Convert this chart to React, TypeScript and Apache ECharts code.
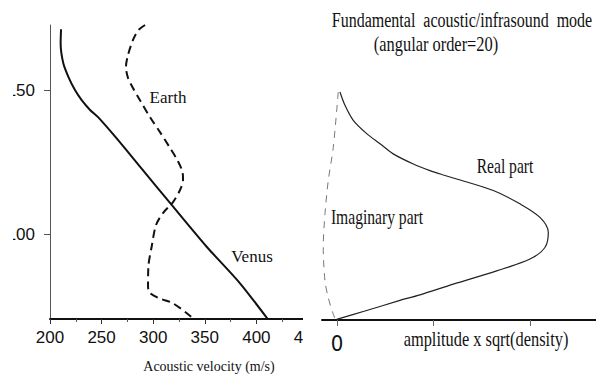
import React, { useEffect, useRef } from "react";
import * as echarts from "echarts";

// Left panel: acoustic velocity (m/s) vs altitude (km)
const venusVelocity = [210.7, 210.3, 212.9, 217.8, 224.2, 230.7, 238.8, 246.8, 264.6, 287.2, 317.9, 351.8, 384.1, 410.5];
const venusAltitude = [171.1, 166.2, 159.3, 154.6, 150.0, 146.5, 143.1, 140.5, 133.2, 123.4, 110.1, 95.6, 82.9, 70.7];
const earthVelocity = [292.1, 285.6, 280.4, 275.6, 273.6, 275.6, 280.4, 287.2, 296.9, 306.6, 316.3, 324.0, 328.4, 328.9, 326.0, 319.2, 309.5, 302.7, 298.5, 295.3, 295.0, 296.9, 306.6, 319.5, 338.9];
const earthAltitude = [172.6, 170.8, 167.4, 162.2, 158.0, 154.2, 150.7, 146.5, 140.6, 135.4, 129.9, 125.3, 121.5, 118.8, 115.3, 111.1, 107.3, 103.1, 95.6, 88.6, 81.7, 79.5, 77.6, 75.9, 70.7];

// Right panel: mode amplitude x sqrt(density) vs altitude
const realAmplitude = [0.031, 0.083, 0.169, 0.308, 0.446, 0.583, 0.791, 0.964, 1.102, 1.24, 1.62, 1.896, 2.104, 2.19, 2.155, 2.0, 1.655, 1.205, 0.86, 0.635, 0.29, -0.003];
const realAltitude = [149.4, 144.8, 139.6, 135.0, 131.5, 128.0, 124.5, 122.2, 120.7, 119.3, 115.3, 110.7, 106.0, 100.8, 95.6, 91.6, 87.5, 82.9, 79.2, 77.1, 73.6, 70.7];
const imagAmplitude = [0.013, -0.038, -0.09, -0.124, -0.142, -0.124, -0.09, -0.038, -0.013];
const imagAltitude = [149.4, 130.3, 118.8, 107.3, 95.6, 84.0, 78.2, 72.5, 70.5];

// Ticks and labels
const velocityTicks = [200, 250, 300, 350, 400, 450];
const altitudeMajorTicks = [100, 150];
const altitudeMinorTicks = [75, 125];
const amplitudeTicks = [0, 1, 2];
const amplitudeLabels = [0];

const zip = (a: number[], b: number[]) => a.map((v, i) => [v, b[i]]);

const serif = '"Liberation Serif", "Times New Roman", serif';
const sans = '"Liberation Sans", Arial, sans-serif';

export default function App() {
  const ref = useRef<HTMLDivElement>(null);
  useEffect(() => {
    if (!ref.current) return;
    const chart = echarts.init(ref.current, undefined, { renderer: "svg" });
    const yRange = { min: 70.5, max: 172.6 };
    const option: any = {
      animation: false,
      backgroundColor: "#ffffff",
      grid: [
        { left: 50, top: 25, width: 258, height: 294 },
        { left: 322, top: 25, width: 274, height: 295 },
      ],
      xAxis: [
        {
          type: "value",
          gridIndex: 0,
          min: 200,
          max: 450,
          interval: 50,
          axisLine: { show: true, lineStyle: { color: "#111", width: 2 } },
          axisTick: { show: true, length: 5, lineStyle: { color: "#333" } },
          minorTick: { show: true, splitNumber: 2, length: 3, lineStyle: { color: "#555" } },
          axisLabel: { color: "#111", fontSize: 17, fontFamily: sans, margin: 10, customValues: velocityTicks },
          splitLine: { show: false },
        },
        {
          type: "value",
          gridIndex: 1,
          min: -0.155,
          max: 2.684,
          z: 100,
          axisLine: { show: true, lineStyle: { color: "#111", width: 2 } },
          axisTick: { show: true, length: 6, customValues: amplitudeTicks, lineStyle: { color: "#666" } },
          axisLabel: {
            color: "#111",
            fontSize: 22,
            fontFamily: '"Liberation Sans Narrow", "DejaVu Sans Condensed", ' + sans,
            margin: 12,
            customValues: amplitudeLabels,
          },
          splitLine: { show: false },
        },
      ],
      yAxis: [
        {
          type: "value",
          gridIndex: 0,
          ...yRange,
          axisLine: { show: true, lineStyle: { color: "#555", width: 1 } },
          axisTick: { show: true, length: 6, customValues: altitudeMajorTicks, lineStyle: { color: "#555" } },
          axisLabel: { color: "#111", fontSize: 17, fontFamily: sans, margin: 15, customValues: altitudeMajorTicks },
          splitLine: { show: false },
        },
        {
          type: "value",
          gridIndex: 0,
          ...yRange,
          axisLine: { show: false },
          axisTick: { show: true, length: 4, customValues: altitudeMinorTicks, lineStyle: { color: "#777" } },
          axisLabel: { show: false },
          splitLine: { show: false },
        },
        {
          type: "value",
          gridIndex: 1,
          ...yRange,
          show: false,
        },
      ],
      series: [
        {
          name: "Venus",
          type: "line",
          xAxisIndex: 0,
          yAxisIndex: 0,
          data: zip(venusVelocity, venusAltitude),
          showSymbol: false,
          smooth: 0.25,
          lineStyle: { color: "#111", width: 2 },
        },
        {
          name: "Earth",
          type: "line",
          xAxisIndex: 0,
          yAxisIndex: 0,
          data: zip(earthVelocity, earthAltitude),
          showSymbol: false,
          smooth: 0.3,
          lineStyle: { color: "#111", width: 2, type: [8, 5] },
        },
        {
          name: "Real part",
          type: "line",
          xAxisIndex: 1,
          yAxisIndex: 2,
          z: 100,
          data: zip(realAmplitude, realAltitude),
          showSymbol: false,
          smooth: 0.3,
          lineStyle: { color: "#222", width: 1.2 },
        },
        {
          name: "Imaginary part",
          type: "line",
          xAxisIndex: 1,
          yAxisIndex: 2,
          z: 100,
          data: zip(imagAmplitude, imagAltitude),
          showSymbol: false,
          smooth: 0.3,
          lineStyle: { color: "#777", width: 1, type: [7, 6] },
        },
      ],
      graphic: [
        { type: "rect", z: 50, shape: { x: 0, y: 0, width: 13, height: 374 }, style: { fill: "#fff" } },
        { type: "rect", z: 50, shape: { x: 303, y: 0, width: 293, height: 374 }, style: { fill: "#fff" } },
        {
          type: "text", z: 100, x: 168, y: 97,
          style: { text: "Earth", font: "17px " + serif, fill: "#111", textAlign: "center", textVerticalAlign: "middle" },
        },
        {
          type: "text", z: 100, x: 252, y: 256,
          style: { text: "Venus", font: "17px " + serif, fill: "#111", textAlign: "center", textVerticalAlign: "middle" },
        },
        {
          type: "text", z: 100, x: 209, y: 366,
          style: { text: "Acoustic velocity (m/s)", font: "14px " + serif, fill: "#111", textAlign: "center", textVerticalAlign: "middle" },
        },
        {
          type: "text", z: 100, x: 462, y: 20, scaleX: 0.8,
          style: { text: "Fundamental  acoustic/infrasound  mode", font: "20px " + serif, fill: "#111", textAlign: "center", textVerticalAlign: "middle" },
        },
        {
          type: "text", z: 100, x: 436, y: 44, scaleX: 0.82,
          style: { text: "(angular order=20)", font: "20px " + serif, fill: "#111", textAlign: "center", textVerticalAlign: "middle" },
        },
        {
          type: "text", z: 100, x: 505, y: 166, scaleX: 0.78,
          style: { text: "Real part", font: "20px " + serif, fill: "#111", textAlign: "center", textVerticalAlign: "middle" },
        },
        {
          type: "text", z: 100, x: 377, y: 217, scaleX: 0.78,
          style: { text: "Imaginary part", font: "20px " + serif, fill: "#111", textAlign: "center", textVerticalAlign: "middle" },
        },
        {
          type: "text", z: 100, x: 486, y: 339, scaleX: 0.82,
          style: { text: "amplitude x sqrt(density)", font: "20px " + serif, fill: "#111", textAlign: "center", textVerticalAlign: "middle" },
        },
      ],
    };
    chart.setOption(option);
    return () => chart.dispose();
  }, []);
  return (
    <div
      ref={ref}
      style={{ position: "absolute", left: 0, top: 0, width: 596, height: 374, background: "#fff" }}
    />
  );
}
